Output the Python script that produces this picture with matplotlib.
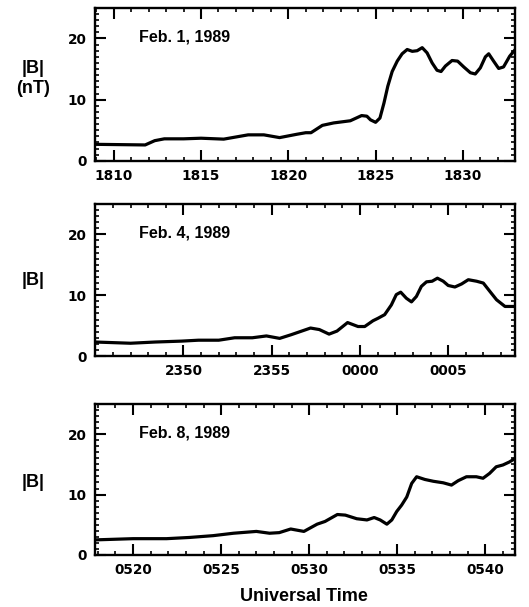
import numpy as np
import matplotlib.pyplot as plt
from matplotlib.ticker import MultipleLocator

plt.rcParams['font.family'] = ['Liberation Sans', 'DejaVu Sans']

# Feb. 1, 1989 -- minutes after 18:00 UT, |B| in nT
t_feb1 = [9.0, 11.8, 12.35, 12.9, 14.0, 15.0, 16.3, 17.0, 17.7, 18.6, 19.5, 20.5,
          21.0, 21.3, 21.95, 22.6, 23.55, 24.2, 24.5, 24.71, 25.0, 25.25, 25.48,
          25.7, 25.95, 26.24, 26.52, 26.81, 27.1, 27.38, 27.67, 27.95, 28.24,
          28.52, 28.75, 29.0, 29.38, 29.7, 30.05, 30.43, 30.71, 31.0, 31.29,
          31.48, 31.76, 32.05, 32.33, 32.68, 33.0]
b_feb1 = [2.7, 2.6, 3.3, 3.6, 3.6, 3.7, 3.55, 3.9, 4.25, 4.25, 3.8, 4.35,
          4.6, 4.6, 5.8, 6.2, 6.55, 7.4, 7.3, 6.7, 6.3, 7.0, 9.45,
          12.2, 14.6, 16.3, 17.5, 18.2, 17.9, 18.0, 18.5, 17.65, 16.0,
          14.8, 14.6, 15.5, 16.4, 16.3, 15.35, 14.4, 14.2, 15.2, 17.0,
          17.5, 16.3, 15.1, 15.35, 17.1, 18.2]

# Feb. 4, 1989 -- minutes after 23:00 UT
t_feb4 = [45.0, 47.0, 48.4, 49.9, 50.85, 52.0, 52.9, 53.9, 54.7, 55.45, 56.1,
          56.5, 57.2, 57.7, 58.25, 58.7, 59.3, 59.89, 60.27, 60.74, 61.02, 61.4,
          61.78, 62.06, 62.31, 62.63, 62.92, 63.2, 63.48, 63.77, 64.09, 64.39,
          64.72, 65.0, 65.38, 65.76, 66.14, 66.61, 66.99, 67.37, 67.74, 68.22,
          68.8]
b_feb4 = [2.3, 2.1, 2.3, 2.45, 2.6, 2.6, 3.0, 3.0, 3.3, 2.9, 3.5,
          3.9, 4.6, 4.35, 3.6, 4.1, 5.5, 4.85, 4.85, 5.8, 6.2, 6.8,
          8.4, 10.1, 10.5, 9.5, 8.9, 9.8, 11.45, 12.2, 12.3, 12.8,
          12.3, 11.6, 11.35, 11.85, 12.55, 12.3, 12.0, 10.6, 9.25, 8.15,
          8.15]

# Feb. 8, 1989 -- minutes after 05:00 UT
t_feb8 = [17.85, 20.0, 21.9, 23.2, 24.55, 25.7, 27.0, 27.75, 28.3, 28.95, 29.7,
          30.45, 30.9, 31.6, 32.05, 32.7, 33.28, 33.69, 34.03, 34.41, 34.69,
          34.97, 35.25, 35.54, 35.82, 36.1, 36.57, 37.05, 37.61, 38.08, 38.46,
          38.93, 39.49, 39.87, 40.24, 40.62, 41.0, 41.37, 41.7]
b_feb8 = [2.5, 2.7, 2.7, 2.9, 3.2, 3.6, 3.9, 3.6, 3.7, 4.3, 3.9,
          5.1, 5.55, 6.7, 6.6, 6.0, 5.8, 6.2, 5.8, 5.1, 5.8,
          7.2, 8.26, 9.6, 11.85, 12.95, 12.5, 12.2, 11.95, 11.57, 12.3,
          12.95, 12.95, 12.7, 13.5, 14.6, 14.9, 15.4, 16.0]

dates = ["Feb. 1, 1989", "Feb. 4, 1989", "Feb. 8, 1989"]
tick_pos = [[10, 15, 20, 25, 30], [50, 55, 60, 65], [20, 25, 30, 35, 40]]
tick_lab = [["1810", "1815", "1820", "1825", "1830"],
            ["2350", "2355", "0000", "0005"],
            ["0520", "0525", "0530", "0535", "0540"]]
xlims = [(8.94, 33.0), (45.0, 68.8), (17.85, 41.7)]
ylabels = ["|B|\n(nT)", "|B|", "|B|"]
ylab_y = [0.54, 0.5, 0.48]

series = [(t_feb1, b_feb1), (t_feb4, b_feb4), (t_feb8, b_feb8)]
boxes = [[0.18, 0.735, 0.794, 0.252],
         [0.18, 0.4135, 0.794, 0.2504],
         [0.18, 0.0857, 0.794, 0.2488]]

fig = plt.figure(figsize=(5.29, 6.07), dpi=100)

for i in range(3):
    ax = fig.add_axes(boxes[i])
    t, b = series[i]
    ax.plot(t, b, color='black', lw=2.3, solid_joinstyle='round',
            solid_capstyle='round')
    ax.set_xlim(*xlims[i])
    ax.set_ylim(0, 25)
    ax.set_yticks([0, 10, 20])
    ax.set_xticks(tick_pos[i])
    ax.set_xticklabels(tick_lab[i])
    ax.xaxis.set_minor_locator(MultipleLocator(1))
    ax.yaxis.set_minor_locator(MultipleLocator(1))
    ax.tick_params(which='both', direction='in', top=True, right=True, colors='black')
    ax.tick_params(which='major', length=8, width=1.5, pad=6)
    ax.tick_params(which='minor', length=3, width=1.2)
    for lbl in ax.get_xticklabels() + ax.get_yticklabels():
        lbl.set_fontweight('bold')
        lbl.set_fontfamily('DejaVu Sans')
        lbl.set_fontsize(9.8)
    for sp in ax.spines.values():
        sp.set_linewidth(1.7)
    ax.text(0.105, 20.2, dates[i], transform=ax.get_yaxis_transform(),
            ha='left', va='center', fontsize=11.5, fontweight='bold')
    ax.text(-0.148, ylab_y[i], ylabels[i], transform=ax.transAxes, ha='center',
            va='center', fontsize=13, fontweight='bold', linespacing=1.2)

fig.text(0.575, 0.0165, "Universal Time", ha='center', va='center',
         fontsize=13, fontweight='bold')

fig.savefig("out.png", dpi=100)
